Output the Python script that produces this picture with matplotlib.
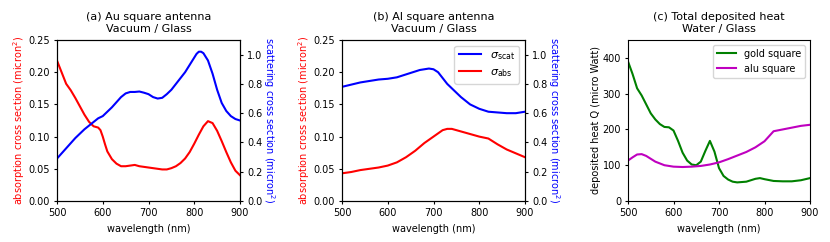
import matplotlib
matplotlib.use("Agg")
import matplotlib.pyplot as plt
import numpy as np

# panel (a) gold antenna
au_wl_abs = [500, 510, 520, 530, 540, 550, 560, 570, 580, 590, 595, 600, 605, 610, 620, 630, 640, 650, 660, 670, 680, 690, 700, 710, 720, 730, 740, 750, 760, 770, 780, 790, 800, 810, 820, 830, 840, 850, 860, 870, 880, 890, 900]
au_abs = [0.218, 0.200, 0.182, 0.172, 0.160, 0.147, 0.134, 0.123, 0.116, 0.114, 0.110, 0.100, 0.088, 0.077, 0.065, 0.058, 0.054, 0.054, 0.055, 0.056, 0.054, 0.053, 0.052, 0.051, 0.050, 0.049, 0.049, 0.051, 0.054, 0.059, 0.066, 0.076, 0.089, 0.103, 0.116, 0.124, 0.121, 0.109, 0.093, 0.076, 0.060, 0.047, 0.040]
au_wl_scat = [500, 520, 540, 560, 580, 590, 600, 610, 620, 630, 640, 650, 660, 670, 680, 690, 700, 710, 720, 730, 740, 750, 760, 770, 780, 790, 800, 805, 810, 815, 820, 830, 840, 850, 860, 870, 880, 890, 900]
au_scat = [0.29, 0.36, 0.43, 0.49, 0.54, 0.565, 0.58, 0.61, 0.64, 0.675, 0.71, 0.735, 0.745, 0.745, 0.748, 0.74, 0.73, 0.71, 0.70, 0.705, 0.73, 0.76, 0.80, 0.84, 0.88, 0.93, 0.98, 1.005, 1.02, 1.02, 1.01, 0.96, 0.87, 0.76, 0.67, 0.615, 0.58, 0.56, 0.55]

# panel (b) aluminium antenna
al_wl = [500, 520, 540, 560, 580, 600, 620, 640, 660, 670, 680, 690, 700, 710, 720, 730, 740, 760, 780, 800, 820, 840, 860, 880, 900]
al_abs = [0.043, 0.045, 0.048, 0.050, 0.052, 0.055, 0.060, 0.068, 0.078, 0.084, 0.090, 0.095, 0.100, 0.105, 0.110, 0.112, 0.112, 0.108, 0.104, 0.100, 0.097, 0.088, 0.080, 0.074, 0.068]
al_scat = [0.78, 0.795, 0.81, 0.82, 0.83, 0.835, 0.845, 0.865, 0.885, 0.895, 0.90, 0.905, 0.90, 0.88, 0.84, 0.80, 0.77, 0.71, 0.66, 0.63, 0.61, 0.605, 0.60, 0.60, 0.61]

# panel (c) deposited heat
gold_wl = [500, 510, 520, 530, 540, 550, 560, 570, 580, 590, 600, 610, 620, 630, 640, 650, 660, 670, 680, 690, 700, 710, 720, 730, 740, 760, 780, 790, 800, 820, 840, 860, 880, 900]
gold_q = [390, 355, 315, 295, 270, 245, 228, 215, 207, 206, 197, 168, 135, 113, 102, 100, 110, 140, 168, 138, 92, 70, 60, 54, 52, 54, 62, 64, 61, 56, 55, 55, 58, 64]
alu_wl = [500, 510, 520, 530, 540, 550, 560, 580, 600, 620, 640, 660, 680, 700, 720, 740, 760, 780, 800, 820, 840, 860, 880, 900]
alu_q = [113, 122, 130, 131, 126, 118, 110, 100, 96, 95, 96, 98, 102, 108, 117, 127, 137, 150, 167, 195, 200, 205, 210, 213]

plt.rcParams["font.size"] = 7
plt.rcParams["xtick.major.size"] = 2.5
plt.rcParams["ytick.major.size"] = 2.5
plt.rcParams["xtick.major.pad"] = 2.5
plt.rcParams["ytick.major.pad"] = 2.5

fig = plt.figure(figsize=(8.3, 2.42), dpi=100)
W, H = 830.0, 242.0

def box(x0, x1, y0=40, y1=201):
    return [x0 / W, 1 - y1 / H, (x1 - x0) / W, (y1 - y0) / H]

def cross_panel(rect, wl_a, a, wl_s, s, title, legend=False):
    ax = fig.add_axes(rect)
    ax2 = ax.twinx()
    l2, = ax2.plot(wl_s, s, color="blue", label=r"$\sigma_{\rm scat}$")
    l1, = ax.plot(wl_a, a, color="red", label=r"$\sigma_{\rm abs}$")
    ax.set_xlim(500, 900)
    ax.set_ylim(0, 0.25)
    ax2.set_ylim(0, 1.1)
    ax.set_xticks([500, 600, 700, 800, 900])
    ax.set_yticks([0, 0.05, 0.10, 0.15, 0.20, 0.25])
    ax2.set_yticks([0, 0.2, 0.4, 0.6, 0.8, 1.0])
    ax.set_xlabel("wavelength (nm)")
    ax.set_ylabel(r"absorption cross section (micron$^2$)", color="red", labelpad=1)
    ax2.set_ylabel(r"scattering cross section (micron$^2$)", color="blue",
                   rotation=270, va="bottom", labelpad=-1)
    ax.set_title(title, fontsize=8)
    if legend:
        ax2.legend([l2, l1], [l2.get_label(), l1.get_label()], loc="upper right", fontsize=8)
    return ax

cross_panel(box(57, 240), au_wl_abs, au_abs, au_wl_scat, au_scat, "(a) Au square antenna\nVacuum / Glass")
cross_panel(box(342, 525), al_wl, al_abs, al_wl, al_scat, "(b) Al square antenna\nVacuum / Glass", legend=True)

ax = fig.add_axes(box(628, 810))
ax.plot(gold_wl, gold_q, color="green", label="gold square")
ax.plot(alu_wl, alu_q, color="m", label="alu square")
ax.set_xlim(500, 900)
ax.set_ylim(0, 450)
ax.set_xticks([500, 600, 700, 800, 900])
ax.set_yticks([0, 100, 200, 300, 400])
ax.set_xlabel("wavelength (nm)")
ax.set_ylabel("deposited heat Q (micro Watt)", labelpad=1)
ax.set_title("(c) Total deposited heat\nWater / Glass", fontsize=8)
ax.legend(loc="upper right")

fig.savefig("out.png", dpi=100)
